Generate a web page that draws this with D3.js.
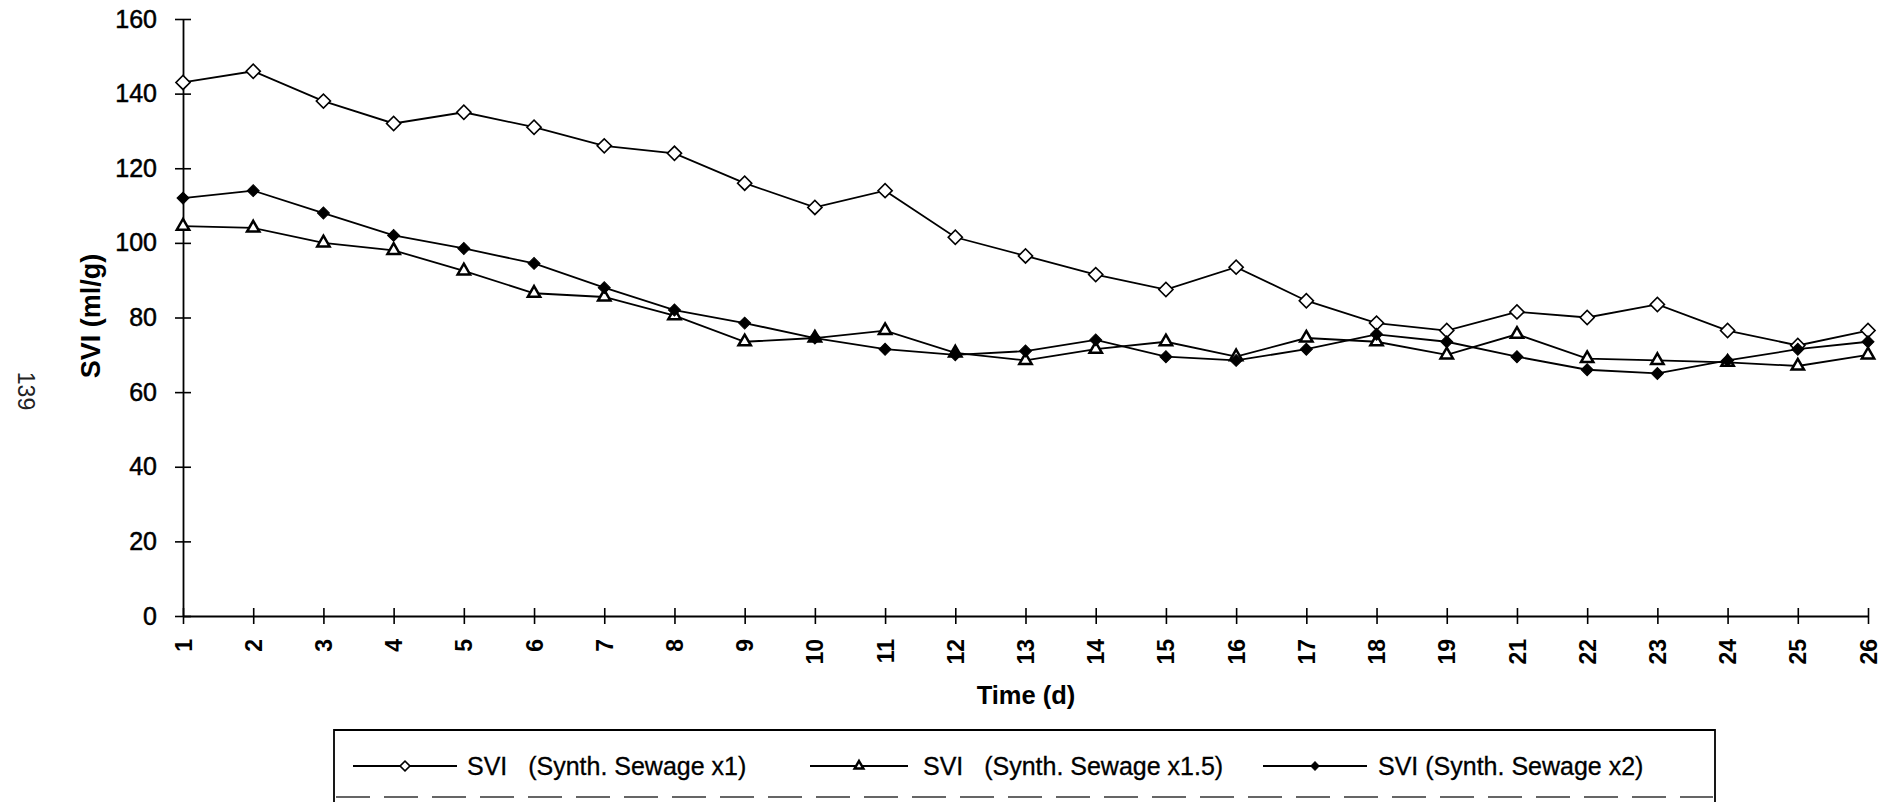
<!DOCTYPE html>
<html>
<head>
<meta charset="utf-8">
<script src="https://cdn.jsdelivr.net/npm/d3@7/dist/d3.min.js"></script>
<style>
  html, body { margin: 0; padding: 0; background: #fff; }
  svg { display: block; font-family: "Liberation Sans", Arial, sans-serif; }
</style>
</head>
<body>
<svg id="chart" width="1897" height="802"></svg>
<script>
// data
var days = ['1', '2', '3', '4', '5', '6', '7', '8', '9', '10', '11', '12', '13', '14', '15', '16', '17', '18', '19', '21', '22', '23', '24', '25', '26'];
var sviX1 = [143, 146, 138, 132, 135, 131, 126, 124, 116, 109.5, 114, 101.5, 96.5, 91.5, 87.5, 93.5, 84.5, 78.5, 76.5, 81.5, 80, 83.5, 76.5, 72.5, 76.5];
var sviX15 = [104.5, 104, 100, 98, 92.5, 86.5, 85.5, 80.5, 73.5, 74.5, 76.5, 70.5, 68.5, 71.5, 73.5, 69.5, 74.5, 73.5, 70, 75.5, 69, 68.5, 68, 67, 70];
var sviX2 = [112, 114, 108, 102, 98.5, 94.5, 88, 82, 78.5, 74.5, 71.5, 70, 71, 74, 69.5, 68.5, 71.5, 75.5, 73.5, 69.5, 66, 65, 68.5, 71.5, 73.5];
var yTicks = [0, 20, 40, 60, 80, 100, 120, 140, 160];
var seriesNames = ['SVI   (Synth. Sewage x1)', 'SVI   (Synth. Sewage x1.5)', 'SVI (Synth. Sewage x2)'];

var series = [
    { name: seriesNames[0], values: sviX1, marker: 'diamondOpen' },
    { name: seriesNames[1], values: sviX15, marker: 'triangle' },
    { name: seriesNames[2], values: sviX2, marker: 'diamondFilled' }
];

var svg = d3.select('#chart');
var plotLeft = 183, plotRight = 1868, plotTop = 19, plotBottom = 616;

var x = d3.scalePoint().domain(days).range([plotLeft, plotRight]).padding(0);
var y = d3.scaleLinear().domain([0, 160]).range([plotBottom, plotTop]);

// markers
function drawMarker(sel, kind, scale) {
    scale = scale || 1;
    if (kind === 'diamondOpen') {
        sel.append('path')
            .attr('d', d3.symbol().type(d3.symbolSquare).size(100 * scale * scale)())
            .attr('transform', 'rotate(45)')
            .attr('fill', '#fff').attr('stroke', '#000').attr('stroke-width', 1.6);
    } else if (kind === 'diamondFilled') {
        sel.append('path')
            .attr('d', d3.symbol().type(d3.symbolSquare).size(72 * scale * scale)())
            .attr('transform', 'rotate(45)')
            .attr('fill', '#000').attr('stroke', '#000').attr('stroke-width', 1);
    } else {
        sel.append('path')
            .attr('d', d3.symbol().type(d3.symbolTriangle).size(66 * scale * scale)())
            .attr('fill', '#fff').attr('stroke', '#000').attr('stroke-width', 2.5);
    }
}

// y axis
var yAxis = svg.append('g')
    .attr('transform', 'translate(' + plotLeft + ',0)')
    .call(d3.axisLeft(y).tickValues(yTicks).tickSize(8).tickSizeOuter(0).tickPadding(18));
yAxis.selectAll('.tick line').attr('x1', 8).attr('stroke-width', 1.6);
yAxis.select('.domain').attr('stroke-width', 1.8);
yAxis.selectAll('.tick text')
    .style('font-size', '25px')
    .attr('fill', '#000')
    .attr('stroke', '#000')
    .attr('stroke-width', 0.5);

// x axis
var xAxis = svg.append('g')
    .attr('transform', 'translate(0,' + plotBottom + ')')
    .call(d3.axisBottom(x).tickSize(8).tickSizeOuter(0));
xAxis.selectAll('.tick line').attr('y1', -8).attr('stroke-width', 1.6);
xAxis.select('.domain').attr('stroke-width', 1.8);
xAxis.selectAll('.tick text')
    .attr('transform', 'rotate(-90)')
    .attr('x', -23)
    .attr('y', 0)
    .attr('dy', '0.35em')
    .style('text-anchor', 'end')
    .style('font-size', '23px')
    .style('font-weight', 'bold')
    .attr('fill', '#000');

// axis titles
svg.append('text')
    .attr('transform', 'translate(91,316) rotate(-90)')
    .attr('dy', '0.35em')
    .style('text-anchor', 'middle')
    .style('font-size', '27px')
    .style('font-weight', 'bold')
    .text('SVI (ml/g)');

svg.append('text')
    .attr('x', 1026)
    .attr('y', 704)
    .style('text-anchor', 'middle')
    .style('font-size', '25.5px')
    .style('font-weight', 'bold')
    .text('Time (d)');

// page number from the scanned page
svg.append('text')
    .attr('transform', 'translate(26,391) rotate(90)')
    .attr('dy', '0.35em')
    .style('text-anchor', 'middle')
    .style('font-size', '23px')
    .attr('fill', '#222')
    .text('139');

// lines
var drawLine = d3.line()
    .x(function (d, i) { return x(days[i]); })
    .y(function (d) { return y(d); });

svg.append('g').selectAll('path')
    .data(series)
    .enter().append('path')
    .attr('d', function (d) { return drawLine(d.values); })
    .attr('fill', 'none')
    .attr('stroke', '#000')
    .attr('stroke-width', 1.8);

// points
series.forEach(function (s) {
    svg.append('g').selectAll('g')
        .data(s.values)
        .enter().append('g')
        .attr('transform', function (d, i) { return 'translate(' + x(days[i]) + ',' + y(d) + ')'; })
        .each(function () { drawMarker(d3.select(this), s.marker); });
});

// legend
var legendTop = 730, legendRow = 766;
svg.append('path')
    .attr('d', 'M334,802 V' + legendTop + ' H1715 V802')
    .attr('fill', 'none')
    .attr('stroke', '#000')
    .attr('stroke-width', 1.8);
svg.append('line')
    .attr('x1', 336).attr('x2', 1713)
    .attr('y1', 797).attr('y2', 797)
    .attr('stroke', '#333')
    .attr('stroke-width', 1.5)
    .attr('stroke-dasharray', '34 14');

var legendPos = [
    { x1: 353, x2: 457, tx: 467 },
    { x1: 810, x2: 908, tx: 923 },
    { x1: 1263, x2: 1367, tx: 1378 }
];
series.forEach(function (s, i) {
    var p = legendPos[i];
    var g = svg.append('g');
    g.append('line')
        .attr('x1', p.x1).attr('x2', p.x2)
        .attr('y1', legendRow).attr('y2', legendRow)
        .attr('stroke', '#000').attr('stroke-width', 1.8);
    g.append('g')
        .attr('transform', 'translate(' + ((p.x1 + p.x2) / 2) + ',' + legendRow + ')')
        .call(function (m) { drawMarker(m, s.marker, 0.7); });
    g.append('text')
        .attr('x', p.tx)
        .attr('y', legendRow)
        .attr('dy', '0.35em')
        .attr('xml:space', 'preserve')
        .style('white-space', 'pre')
        .style('font-size', '25px')
        .attr('stroke', '#000')
        .attr('stroke-width', 0.3)
        .text(s.name);
});
</script>
</body>
</html>
